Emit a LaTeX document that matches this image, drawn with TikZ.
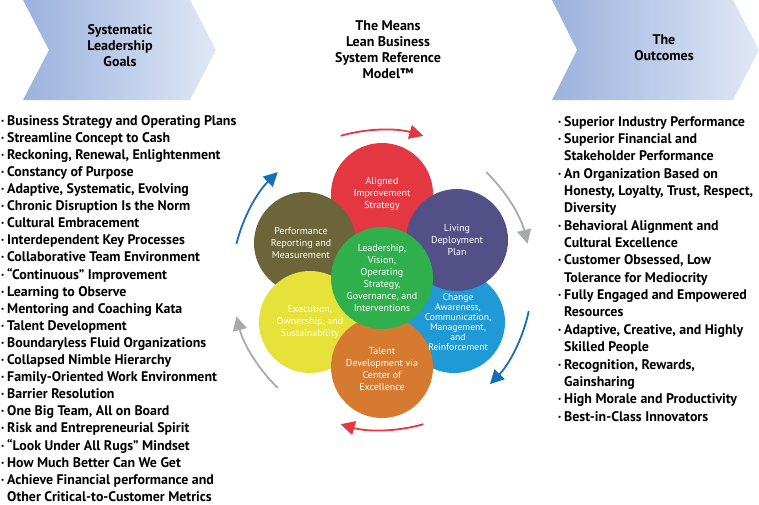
\documentclass[tikz,border=0pt]{standalone}
\usepackage{fontspec}
\setmainfont{PT Sans}
\usetikzlibrary{arrows.meta}

\definecolor{stratred}{RGB}{229,55,66}
\definecolor{planpurple}{RGB}{82,80,134}
\definecolor{changeblue}{RGB}{31,154,214}
\definecolor{talentorange}{RGB}{214,122,48}
\definecolor{execyellow}{RGB}{230,226,58}
\definecolor{perfolive}{RGB}{108,101,58}
\definecolor{leadgreen}{RGB}{47,176,76}
\definecolor{arrowblue}{RGB}{24,110,182}
\definecolor{arrowgray}{RGB}{168,170,173}
\definecolor{chevdark}{RGB}{155,178,221}
\definecolor{chevlight}{RGB}{224,232,246}

\newcommand{\dotitem}{\makebox[6pt][l]{\raisebox{2pt}{\fontsize{7}{7}\selectfont\textbullet}}}
\newcommand{\dotgap}{\hspace*{6pt}}

\tikzset{
  petal/.style={circle, minimum size=102pt, inner sep=0pt},
  petaltext/.style={text=white, align=center, inner sep=0pt, font=\fontsize{10}{12}\selectfont},
  cyclearrow/.style={line width=1.8pt, -{Triangle[length=14pt, width=14pt]}},
  headtext/.style={align=center, font=\bfseries\fontsize{14}{16}\selectfont},
  listtext/.style={align=left, inner sep=0pt, anchor=north west}
}

\begin{document}
\begin{tikzpicture}[x=1pt, y=1pt]
        \useasboundingbox (0,0) rectangle (759,-504);

        % Header chevrons
        \shade[left color=chevdark, right color=chevlight] (23,0) -- (190,0) -- (216,-50) -- (190,-100) -- (23,-100) -- (49,-50) -- cycle;
        \shade[left color=chevdark, right color=chevlight] (552,0) -- (733,0) -- (759,-50) -- (733,-100) -- (552,-100) -- (577,-50) -- cycle;
        \node[headtext] (goals) at (120,-46) {Systematic\\Leadership\\Goals};
        \node[headtext] (means) at (388,-50) {The Means\\Lean Business\\System Reference\\Model™};
        \node[headtext] (outcomes) at (664,-48) {The\\Outcomes};

        % Circles
        \coordinate (hub) at (382,-280);
        \node[petal, fill=stratred] (strategy) at (382,-194) {};
        \node[petal, fill=changeblue] (change) at (454,-322) {};
        \node[petal, fill=perfolive] (perf) at (305,-243) {};
        \node[petal, fill=execyellow] (exec) at (310,-322) {};
        \node[petal, fill=planpurple] (plan) at (457,-240) {};
        \node[petal, fill=talentorange] (talent) at (382,-367) {};
        \node[petal, fill=leadgreen] (lead) at (382,-278) {};

        % Circle labels
        \node[petaltext] (strategytext) at (strategy) {Aligned\\Improvement\\Strategy};
        \node[petaltext, font=\fontsize{9.6}{10}\selectfont] (changetext) at (458,-322) {Change\\Awareness,\\Communication,\\Management,\\and\\Reinforcement};
        \node[petaltext] (perftext) at (301,-243) {Performance\\Reporting and\\Measurement};
        \node[petaltext] (exectext) at (exec) {Execution,\\Ownership, and\\Sustainability};
        \node[petaltext] (plantext) at (plan) {Living\\Deployment\\Plan};
        \node[petaltext] (talenttext) at (382,-369) {Talent\\Development via\\Center of\\Excellence};
        \node[petaltext] (leadtext) at (lead) {Leadership,\\Vision,\\Operating\\Strategy,\\Governance, and\\Interventions};

        % Cycle arrows
        \draw[cyclearrow, stratred] ([shift={(106:150)}]hub) arc[start angle=106, end angle=74, radius=150];
        \draw[cyclearrow, arrowgray] ([shift={(46:150)}]hub) arc[start angle=46, end angle=14, radius=150];
        \draw[cyclearrow, arrowblue] ([shift={(-12:150)}]hub) arc[start angle=-12, end angle=-44, radius=150];
        \draw[cyclearrow, stratred] ([shift={(-74:150)}]hub) arc[start angle=-74, end angle=-106, radius=150];
        \draw[cyclearrow, arrowgray] ([shift={(-134:150)}]hub) arc[start angle=-134, end angle=-166, radius=150];
        \draw[cyclearrow, arrowblue] ([shift={(166:150)}]hub) arc[start angle=166, end angle=134, radius=150];

        % Lists
        \node[listtext, font=\bfseries\fontsize{13.9}{17.1}\selectfont] (goallist) at (1,-115) {%
            \dotitem Business Strategy and Operating Plans\\
            \dotitem Streamline Concept to Cash\\
            \dotitem Reckoning, Renewal, Enlightenment\\
            \dotitem Constancy of Purpose\\
            \dotitem Adaptive, Systematic, Evolving\\
            \dotitem Chronic Disruption Is the Norm\\
            \dotitem Cultural Embracement\\
            \dotitem Interdependent Key Processes\\
            \dotitem Collaborative Team Environment\\
            \dotitem “Continuous” Improvement\\
            \dotitem Learning to Observe\\
            \dotitem Mentoring and Coaching Kata\\
            \dotitem Talent Development\\
            \dotitem Boundaryless Fluid Organizations\\
            \dotitem Collapsed Nimble Hierarchy\\
            \dotitem Family-Oriented Work Environment\\
            \dotitem Barrier Resolution\\
            \dotitem One Big Team, All on Board\\
            \dotitem Risk and Entrepreneurial Spirit\\
            \dotitem “Look Under All Rugs” Mindset\\
            \dotitem How Much Better Can We Get\\
            \dotitem Achieve Financial performance and\\
            \dotgap Other Critical-to-Customer Metrics};
        \node[listtext, font=\bfseries\fontsize{13.9}{17.35}\selectfont] (outlist) at (558,-116) {%
            \dotitem Superior Industry Performance\\
            \dotitem Superior Financial and\\
            \dotgap Stakeholder Performance\\
            \dotitem An Organization Based on\\
            \dotgap Honesty, Loyalty, Trust, Respect,\\
            \dotgap Diversity\\
            \dotitem Behavioral Alignment and\\
            \dotgap Cultural Excellence\\
            \dotitem Customer Obsessed, Low\\
            \dotgap Tolerance for Mediocrity\\
            \dotitem Fully Engaged and Empowered\\
            \dotgap Resources\\
            \dotitem Adaptive, Creative, and Highly\\
            \dotgap Skilled People\\
            \dotitem Recognition, Rewards,\\
            \dotgap Gainsharing\\
            \dotitem High Morale and Productivity\\
            \dotitem Best-in-Class Innovators};
    \end{tikzpicture}
\end{document}
